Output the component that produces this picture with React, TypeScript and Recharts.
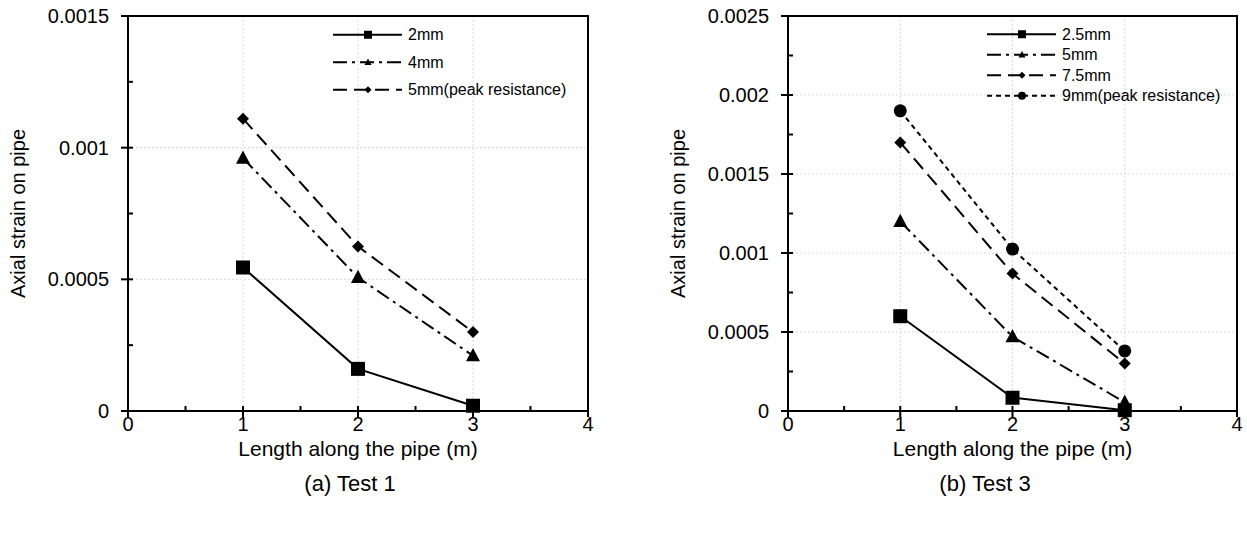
import React from "react"
import {
  CartesianGrid,
  Line,
  LineChart,
  ReferenceArea,
  XAxis,
  YAxis,
} from "recharts"

const FONT = '"Liberation Sans", Arial, sans-serif'

// x positions along the pipe (m)
const LENGTHS = [1, 2, 3]
const X_TICKS = [0, 0.5, 1, 1.5, 2, 2.5, 3, 3.5, 4]

// Test 1
const T1_2MM = [0.000545, 0.00016, 0.00002]
const T1_4MM = [0.00096, 0.000507, 0.00021]
const T1_5MM = [0.00111, 0.000625, 0.0003]
const T1_Y_TICKS = [0, 0.00025, 0.0005, 0.00075, 0.001, 0.00125, 0.0015]

// Test 3
const T3_2_5MM = [0.0006, 0.000084, 0.000005]
const T3_5MM = [0.0012, 0.00047, 0.000055]
const T3_7_5MM = [0.0017, 0.00087, 0.0003]
const T3_9MM = [0.0019, 0.001025, 0.00038]
const T3_Y_TICKS = [
  0, 0.00025, 0.0005, 0.00075, 0.001, 0.00125, 0.0015, 0.00175, 0.002, 0.00225, 0.0025,
]

type Shape = "square" | "triangle" | "diamond" | "circle"
type Series = { key: string; name: string; dash?: string; shape: Shape; values: number[] }

const DASH_DOT = "14 5 3 5"
const LONG_DASH = "14 7"
const SHORT_DASH = "5 4"

const TEST1: Series[] = [
  { key: "a", name: "2mm", shape: "square", values: T1_2MM },
  { key: "b", name: "4mm", shape: "triangle", dash: DASH_DOT, values: T1_4MM },
  { key: "c", name: "5mm(peak resistance)", shape: "diamond", dash: LONG_DASH, values: T1_5MM },
]

const TEST3: Series[] = [
  { key: "a", name: "2.5mm", shape: "square", values: T3_2_5MM },
  { key: "b", name: "5mm", shape: "triangle", dash: DASH_DOT, values: T3_5MM },
  { key: "c", name: "7.5mm", shape: "diamond", dash: LONG_DASH, values: T3_7_5MM },
  { key: "d", name: "9mm(peak resistance)", shape: "circle", dash: SHORT_DASH, values: T3_9MM },
]

const PLOT_SIZE: Record<Shape, number> = { square: 14, triangle: 14, diamond: 12, circle: 13 }
const LEGEND_SIZE: Record<Shape, number> = { square: 8, triangle: 7, diamond: 7, circle: 8 }

function Marker({ shape, cx, cy, s }: { shape: Shape; cx: number; cy: number; s: number }) {
  if (shape === "square") return <rect x={cx - s / 2} y={cy - s / 2} width={s} height={s} fill="#000" />
  if (shape === "circle") return <circle cx={cx} cy={cy} r={s / 2} fill="#000" />
  if (shape === "triangle")
    return (
      <polygon
        points={`${cx},${cy - s * 0.55} ${cx - s / 2},${cy + s * 0.4} ${cx + s / 2},${cy + s * 0.4}`}
        fill="#000"
      />
    )
  return (
    <polygon
      points={`${cx},${cy - s / 2} ${cx + s / 2},${cy} ${cx},${cy + s / 2} ${cx - s / 2},${cy}`}
      fill="#000"
    />
  )
}

function isMajor(v: number) {
  const r = v / 0.0005
  return Math.abs(r - Math.round(r)) < 1e-6
}

function XTick(props: any) {
  const { x, y, payload } = props
  const v = payload.value
  const major = Number.isInteger(v)
  return (
    <g>
      <line x1={x} x2={x} y1={y - 5} y2={major ? y + 6 : y} stroke="#000" strokeWidth={2} />
      {major && (
        <text x={x} y={y + 13} textAnchor="middle" dominantBaseline="central" fontSize={20} fontFamily={FONT} fill="#000">
          {v}
        </text>
      )}
    </g>
  )
}

function YTick(props: any) {
  const { x, y, payload } = props
  const v = payload.value
  const major = isMajor(v)
  return (
    <g>
      <line x1={major ? x - 7 : x} x2={x + 5} y1={y} y2={y} stroke="#000" strokeWidth={2} />
      {major && (
        <text x={x - 19} y={y} textAnchor="end" dominantBaseline="central" fontSize={20} fontFamily={FONT} fill="#000">
          {String(v)}
        </text>
      )}
    </g>
  )
}

function LegendBox({ series, rowH, left, top }: { series: Series[]; rowH: number; left: number; top: number }) {
  return (
    <svg width={260} height={rowH * series.length} style={{ position: "absolute", left, top }}>
      {series.map((s, i) => {
        const y = rowH * i + rowH / 2
        return (
          <g key={s.key}>
            <line x1={0} x2={69} y1={y} y2={y} stroke="#000" strokeWidth={2} strokeDasharray={s.dash} />
            <Marker shape={s.shape} cx={35} cy={y} s={LEGEND_SIZE[s.shape]} />
            <text x={75} y={y} dominantBaseline="central" fontSize={16} fontFamily={FONT} fill="#000">
              {s.name}
            </text>
          </g>
        )
      })}
    </svg>
  )
}

function Panel({
  left,
  width,
  plotW,
  yMax,
  yTicks,
  series,
}: {
  left: number
  width: number
  plotW: number
  yMax: number
  yTicks: number[]
  series: Series[]
}) {
  const data = LENGTHS.map((x, i) => {
    const row: Record<string, number> = { x }
    series.forEach((s) => (row[s.key] = s.values[i]))
    return row
  })
  const gridY = yTicks.filter((v) => isMajor(v) && v > 0 && v < yMax)
  return (
    <div style={{ position: "absolute", left, top: 0 }}>
      <LineChart width={width} height={533} data={data} margin={{ top: 16, right: width - 128 - plotW, bottom: 0, left: 0 }}>
        <CartesianGrid stroke="#d9d9d9" strokeDasharray="2 2" verticalValues={[1, 2, 3]} horizontalValues={gridY} />
        <ReferenceArea x1={0} x2={4} y1={0} y2={yMax} fill="none" fillOpacity={0} stroke="#000" strokeWidth={2} />
        <XAxis
          dataKey="x"
          type="number"
          domain={[0, 4]}
          ticks={X_TICKS}
          interval={0}
          height={122}
          tickSize={0}
          tickMargin={0}
          tickLine={false}
          axisLine={{ stroke: "#000", strokeWidth: 2 }}
          tick={<XTick />}
          label={(p: any) => {
            const vb = p.viewBox
            return (
              <text x={vb.x + vb.width / 2} y={vb.y + 37} textAnchor="middle" dominantBaseline="central" fontSize={21} fontFamily={FONT} fill="#000">
                Length along the pipe (m)
              </text>
            )
          }}
        />
        <YAxis
          type="number"
          domain={[0, yMax]}
          ticks={yTicks}
          interval={0}
          width={128}
          tickSize={0}
          tickMargin={0}
          tickLine={false}
          axisLine={{ stroke: "#000", strokeWidth: 2 }}
          tick={<YTick />}
          label={(p: any) => {
            const vb = p.viewBox
            const cy = vb.y + vb.height / 2
            return (
              <text x={18} y={cy} transform={`rotate(-90 18 ${cy})`} textAnchor="middle" dominantBaseline="central" fontSize={20} fontFamily={FONT} fill="#000">
                Axial strain on pipe
              </text>
            )
          }}
        />
        {series.map((s) => (
          <Line
            key={s.key}
            dataKey={s.key}
            name={s.name}
            type="linear"
            stroke="#000"
            strokeWidth={2}
            strokeDasharray={s.dash}
            isAnimationActive={false}
            dot={(p: any) => <Marker key={`${s.key}-${p.index}`} shape={s.shape} cx={p.cx} cy={p.cy} s={PLOT_SIZE[s.shape]} />}
            activeDot={false}
          />
        ))}
      </LineChart>
    </div>
  )
}

const captionStyle = (center: number): React.CSSProperties => ({
  position: "absolute",
  left: center - 100,
  top: 471,
  width: 200,
  textAlign: "center",
  fontFamily: FONT,
  fontSize: 22,
  lineHeight: "26px",
  color: "#000",
})

export default function App() {
  return (
    <div style={{ position: "absolute", left: 0, top: 0, width: 1247, height: 533, background: "#fff" }}>
      <Panel left={0} width={620} plotW={460} yMax={0.0015} yTicks={T1_Y_TICKS} series={TEST1} />
      <Panel left={660} width={587} plotW={449} yMax={0.0025} yTicks={T3_Y_TICKS} series={TEST3} />
      <LegendBox series={TEST1} rowH={27.5} left={333} top={21} />
      <LegendBox series={TEST3} rowH={20.5} left={987} top={24} />
      <div style={captionStyle(350)}>(a) Test 1</div>
      <div style={captionStyle(985)}>(b) Test 3</div>
    </div>
  )
}
